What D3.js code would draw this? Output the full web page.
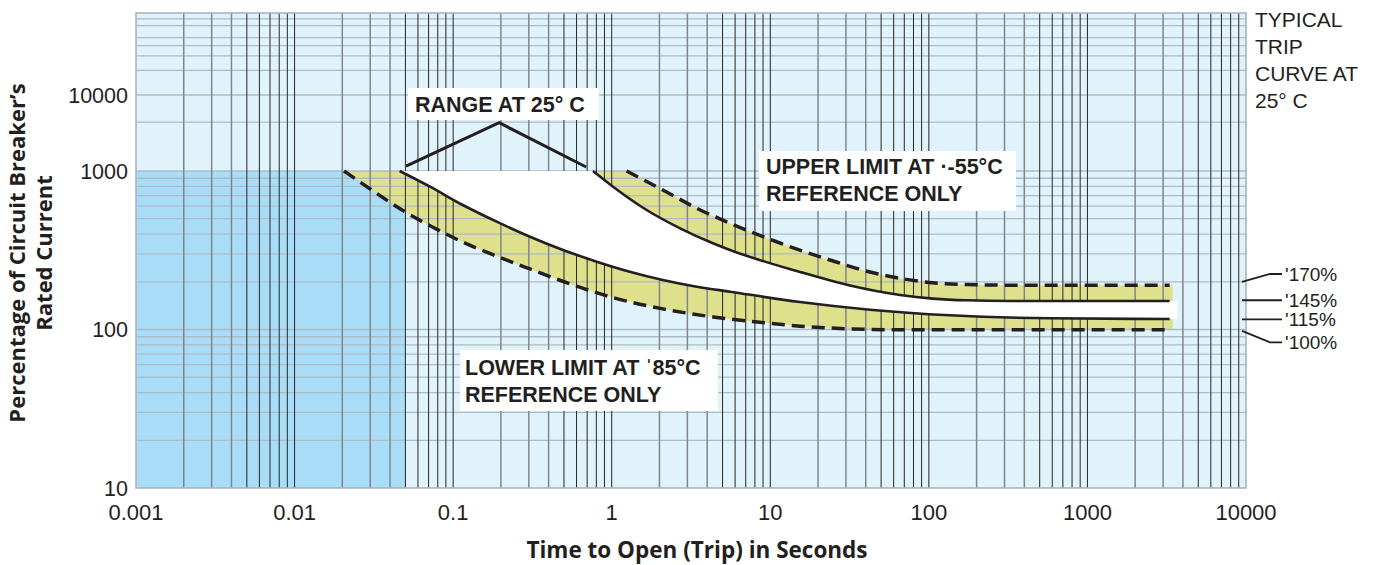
<!DOCTYPE html>
<html>
<head>
<meta charset="utf-8">
<title>Typical Trip Curve</title>
<script src="https://d3js.org/d3.v7.min.js"></script>
<style>
  body { margin: 0; background: #fff; }
  text { font-family: "Liberation Sans", Arial, sans-serif; fill: #231f20; }
  .axis-title { font-family: "Open Sans", sans-serif; font-weight: bold; font-size: 22.5px; }
  .note { font-weight: bold; font-size: 21.5px; }
</style>
</head>
<body>
<div id="chart"></div>
<script>
// axis ticks
const xTicks = [0.001, 0.01, 0.1, 1, 10, 100, 1000, 10000];
const xTickLabels = ["0.001", "0.01", "0.1", "1", "10", "100", "1000", "10000"];
const yTicks = [10, 100, 1000, 10000];
const yTickLabels = ["10", "100", "1000", "10000"];
// extra grid lines in the squeezed top part of the chart
const yGridUpper = [4400, 20000, 30000, 40000, 50000, 70000, 85000];

// curves: trip time (s) vs percentage of rated current
const lower85Time = [0.0205, 0.03, 0.05, 0.072, 0.115, 0.197, 0.305, 0.546, 1.02, 2.1, 4.35, 8.6, 15.4, 27.5, 66, 3300];
const lower85Pct  = [1000, 770, 551, 450, 356, 285, 241, 194, 159, 135, 120, 111, 105, 101.5, 99.5, 99.5];

const lower25Time = [0.046, 0.0715, 0.115, 0.188, 0.305, 0.493, 0.804, 1.3, 2.1, 3.44, 5.57, 15.4, 42.5, 136, 580, 3300];
const lower25Pct  = [1000, 796, 610, 479, 385, 317.5, 268, 231.6, 205.3, 186.2, 173.2, 149.1, 133.3, 122.9, 117.7, 116.5];

const upper25Time = [0.762, 1.02, 1.66, 2.7, 4.35, 5.57, 15.4, 31.8, 65.8, 106, 171, 325, 3300];
const upper25Pct  = [1000, 796, 567.5, 435, 350, 317.5, 230.6, 189.5, 165.1, 156.7, 152.8, 151.3, 151.3];

const upper55Time = [1.24, 2.1, 3.44, 5.57, 11.5, 23.8, 42.5, 65.8, 106, 171, 325, 3300];
const upper55Pct  = [1000, 759, 582, 467.7, 351.4, 274.4, 230.6, 210.4, 197.1, 192, 190.4, 190.1];

// band ends (yellow band a bit shorter than the white one)
const yellowEnd = 3450;
const whiteEnd = 3700;
// short-time zone, shaded darker
const shortZone = [0.001, 0.05, 10, 1000];

// right side labels: level the leader starts from, level of the text
const rightLabels = ["\u02B9170%", "\u02B9145%", "\u02B9115%", "\u02B9100%"];
const rightFrom = [200, 153, 116, 98];
const rightTo = [224, 153, 116, 83];

// Set up dimensions
const width = 1378;
const height = 565;

const svg = d3.select("#chart")
    .append("svg")
    .attr("width", width)
    .attr("height", height);

const x = d3.scaleLog().domain([0.001, 10000]).range([136, 1246]);
// top decades are squeezed in the original
const y = d3.scaleLog().domain([10, 1000, 10000, 100000]).range([488, 171, 95, 13]);

const x0 = x(0.001), x1 = x(10000), yTop = y(100000), yBot = y(10);

// plot background
svg.append("rect")
    .attr("x", x0).attr("y", yTop)
    .attr("width", x1 - x0).attr("height", yBot - yTop)
    .attr("fill", "#e0f2fa");

svg.append("rect")
    .attr("x", x(shortZone[0])).attr("y", y(shortZone[3]))
    .attr("width", x(shortZone[1]) - x(shortZone[0]))
    .attr("height", y(shortZone[2]) - y(shortZone[3]))
    .attr("fill", "#a9ddf7");

const line = d3.line()
    .x(d => x(d[0]))
    .y(d => y(d[1]))
    .curve(d3.curveMonotoneX);

const zip = (t, p) => t.map((v, i) => [v, p[i]]);
const lower85 = zip(lower85Time, lower85Pct);
const lower25 = zip(lower25Time, lower25Pct);
const upper25 = zip(upper25Time, upper25Pct);
const upper55 = zip(upper55Time, upper55Pct);

function band(lo, hi, end) {
    const a = lo[lo.length - 1], b = hi[hi.length - 1];
    return line(lo) +
        "L" + [x(end), y(a[1])] +
        "L" + [x(end), y(b[1])] +
        "L" + [x(b[0]), y(b[1])] +
        line(hi.slice().reverse()).replace(/^M/, "L") + "Z";
}

// yellow limit band
svg.append("path")
    .attr("d", band(lower85, upper55, yellowEnd))
    .attr("fill", "#dfe08b");

// grid
const grid = svg.append("g");
const hLines = [];
[10, 100].forEach(dec => { for (let m = 2; m <= 9; m++) hLines.push(dec * m); });
hLines.push(100, 1000, 10000, ...yGridUpper);
grid.selectAll("line.h")
    .data(hLines)
    .enter().append("line")
    .attr("x1", x0).attr("x2", x1)
    .attr("y1", d => y(d)).attr("y2", d => y(d))
    .attr("stroke", "#adbcc6")
    .attr("stroke-width", 1.3);

const vLines = [];
for (let e = -3; e <= 3; e++) {
    for (let m = 1; m <= 9; m++) {
        if (e === -3 && m === 1) continue;
        vLines.push({ v: m * Math.pow(10, e), m: m });
    }
}
grid.selectAll("line.v")
    .data(vLines)
    .enter().append("line")
    .attr("x1", d => x(d.v)).attr("x2", d => x(d.v))
    .attr("y1", yTop).attr("y2", yBot)
    .attr("stroke", d => (d.m >= 2 && d.m <= 4) ? "#80878c" : "#262626")
    .attr("stroke-width", d => (d.m >= 2 && d.m <= 4) ? 1.5 : 1);

svg.append("rect")
    .attr("x", x0).attr("y", yTop)
    .attr("width", x1 - x0).attr("height", yBot - yTop)
    .attr("fill", "none")
    .attr("stroke", "#a7b1b8")
    .attr("stroke-width", 1.5);

// white 25 C range
svg.append("path")
    .attr("d", band(lower25, upper25, whiteEnd))
    .attr("fill", "#ffffff");

// curves
[lower85, upper55].forEach(c => {
    svg.append("path")
        .attr("d", line(c))
        .attr("fill", "none")
        .attr("stroke", "#231f20")
        .attr("stroke-width", 3.5)
        .attr("stroke-dasharray", "13,7");
});
[lower25, upper25].forEach(c => {
    svg.append("path")
        .attr("d", line(c))
        .attr("fill", "none")
        .attr("stroke", "#231f20")
        .attr("stroke-width", 2.6);
});

// tick labels
svg.selectAll("text.xt")
    .data(xTicks)
    .enter().append("text")
    .attr("x", d => x(d))
    .attr("y", 520)
    .attr("text-anchor", "middle")
    .attr("font-size", 22)
    .text((d, i) => xTickLabels[i]);

svg.selectAll("text.yt")
    .data(yTicks)
    .enter().append("text")
    .attr("x", 128)
    .attr("y", d => y(d))
    .attr("dy", "0.36em")
    .attr("text-anchor", "end")
    .attr("font-size", 21.5)
    .text((d, i) => yTickLabels[i]);

// axis titles
svg.append("text")
    .attr("class", "axis-title")
    .attr("x", 697)
    .attr("y", 558)
    .attr("text-anchor", "middle")
    .text("Time to Open (Trip) in Seconds");

const yt = svg.append("text")
    .attr("class", "axis-title")
    .attr("text-anchor", "middle")
    .style("font-size", "22px")
    .attr("transform", "translate(25,253) rotate(-90)");
yt.append("tspan").attr("x", 0).attr("y", 0).text("Percentage of Circuit Breaker\u2019s");
yt.append("tspan").attr("x", 0).attr("y", 27).text("Rated Current");

// typical trip curve note
const typ = svg.append("text").attr("font-size", 21);
["TYPICAL", "TRIP", "CURVE AT", "25\u00B0 C"].forEach((s, i) => {
    typ.append("tspan").attr("x", 1255).attr("y", 27 + i * 27).text(s);
});

// annotation boxes
function noteBox(bx, by, bw, bh, lines, tx, ty, lh) {
    svg.append("rect")
        .attr("x", bx).attr("y", by).attr("width", bw).attr("height", bh)
        .attr("fill", "#ffffff");
    const t = svg.append("text").attr("class", "note");
    lines.forEach((s, i) => {
        t.append("tspan").attr("x", tx).attr("y", ty + i * lh).text(s);
    });
}
noteBox(408, 88, 191, 32, ["RANGE AT 25\u00B0 C"], 415, 112, 0);
noteBox(759, 151, 257, 60, ["UPPER LIMIT AT \u00B7-55\u00B0C", "REFERENCE ONLY"], 766, 174, 27);
noteBox(460, 350, 258, 61, ["LOWER LIMIT AT \u02C885\u00B0C", "REFERENCE ONLY"], 465, 375, 27);

// range leader
const rangeLeader = [[0.0505, 1163], [0.195, 4320], [0.69, 1129]];
svg.append("path")
    .attr("d", d3.line().x(d => x(d[0])).y(d => y(d[1]))(rangeLeader))
    .attr("fill", "none")
    .attr("stroke", "#231f20")
    .attr("stroke-width", 3);

// right side level labels
rightLabels.forEach((s, i) => {
    const ya = y(rightFrom[i]), yb = y(rightTo[i]);
    const pts = [[1242, ya], [1270, yb], [1282, yb]];
    svg.append("path")
        .attr("d", d3.line()(pts))
        .attr("fill", "none")
        .attr("stroke", "#231f20")
        .attr("stroke-width", 1.8);
    svg.append("text")
        .attr("x", 1285)
        .attr("y", yb)
        .attr("dy", "0.36em")
        .attr("font-size", 19)
        .attr("fill", "#333")
        .text(s);
});
</script>
</body>
</html>
